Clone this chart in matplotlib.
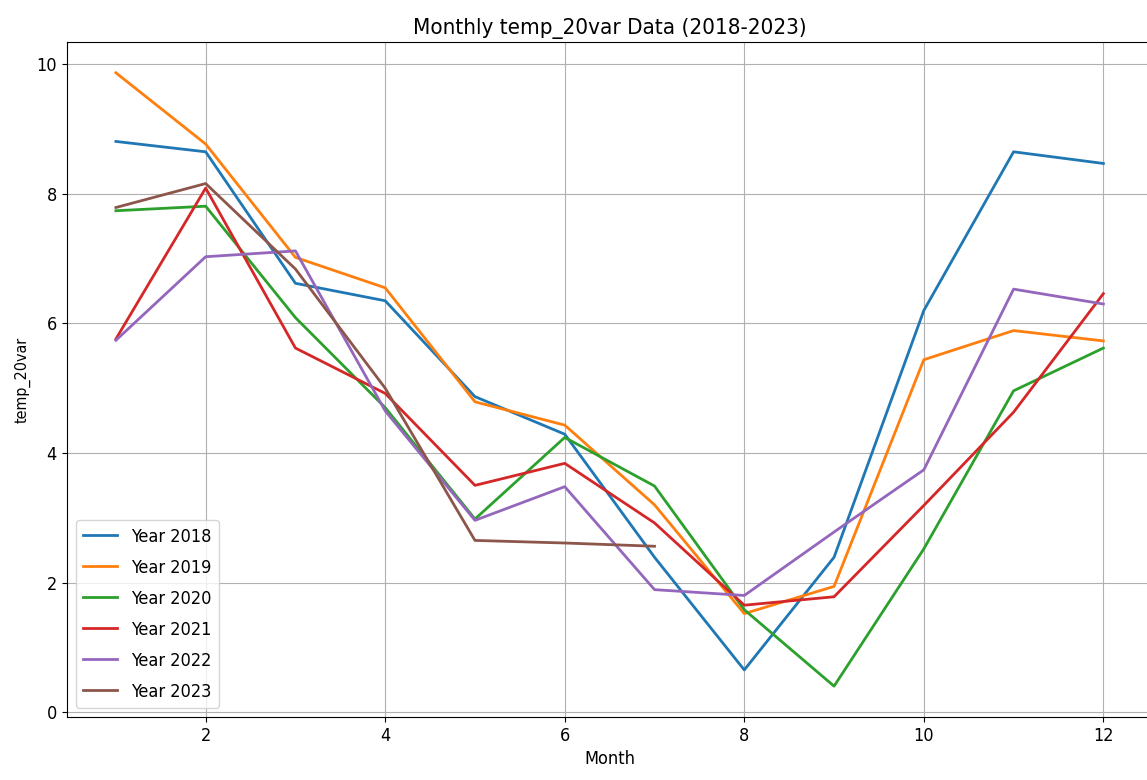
import matplotlib.pyplot as plt

plt.rcParams["font.family"] = ["DejaVu Sans"]
plt.rcParams["font.stretch"] = "condensed"

months = [1, 2, 3, 4, 5, 6, 7, 8, 9, 10, 11, 12]

y2018 = [8.81, 8.65, 6.62, 6.35, 4.87, 4.29, 2.39, 0.65, 2.39, 6.2, 8.65, 8.47]
y2019 = [9.87, 8.77, 7.02, 6.55, 4.79, 4.43, 3.2, 1.52, 1.94, 5.44, 5.89, 5.73]
y2020 = [7.74, 7.81, 6.09, 4.7, 2.98, 4.24, 3.49, 1.58, 0.4, 2.52, 4.96, 5.62]
y2021 = [5.76, 8.09, 5.62, 4.92, 3.5, 3.84, 2.92, 1.65, 1.78, 3.19, 4.63, 6.46]
y2022 = [5.74, 7.03, 7.12, 4.65, 2.96, 3.48, 1.89, 1.8, 2.78, 3.74, 6.53, 6.3]
y2023 = [7.79, 8.16, 6.84, 5.0, 2.65, 2.61, 2.56]

series = {
    "Year 2018": y2018,
    "Year 2019": y2019,
    "Year 2020": y2020,
    "Year 2021": y2021,
    "Year 2022": y2022,
    "Year 2023": y2023,
}

fig = plt.figure(figsize=(11.47, 7.8), dpi=100)
ax = fig.add_axes([0.058, 0.081, 0.947, 0.865])

for label, vals in series.items():
    ax.plot(months[:len(vals)], vals, label=label, linewidth=2)

ax.set_title("Monthly temp_20var Data (2018-2023)", fontsize=16)
ax.set_xlabel("Month", fontsize=13)
ax.set_ylabel("temp_20var", fontsize=11.5)
ax.tick_params(labelsize=13)
ax.grid(True)
ax.legend(loc="lower left", fontsize=13, labelspacing=0.72, handlelength=1.9)

plt.savefig("out.png", dpi=100)
